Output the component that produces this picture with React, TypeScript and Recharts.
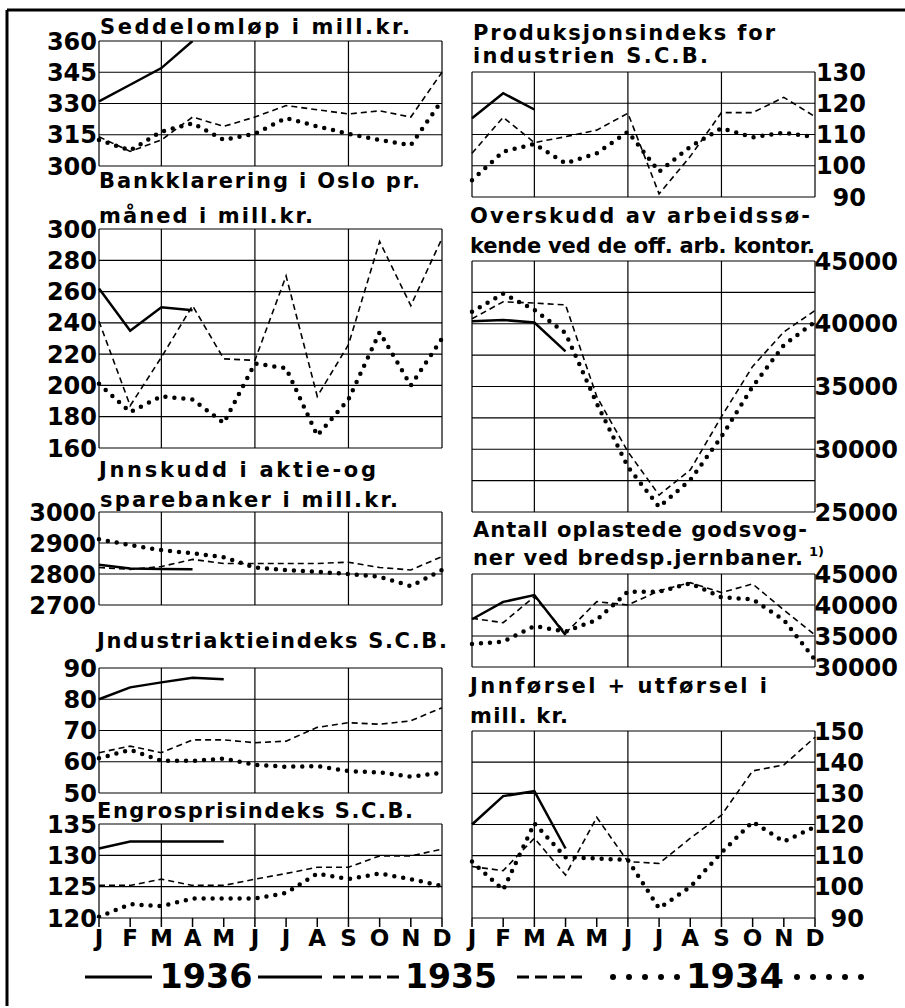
import React from 'react';
import { LineChart, Line, XAxis, YAxis, ReferenceLine } from 'recharts';

const MONTHS = ['J', 'F', 'M', 'A', 'M', 'J', 'J', 'A', 'S', 'O', 'N', 'D'];
const MONTH_IDX = [0, 1, 2, 3, 4, 5, 6, 7, 8, 9, 10, 11];
const V_GRID = [0, 2, 5, 8, 11];

// Seddelomløp i mill. kr.
const NOTES_36 = [331, 339, 347, 360];
const NOTES_35 = [314, 307, 312.5, 323.5, 319, 323.5, 329, 327, 325, 326.5, 323.5, 345];
const NOTES_34 = [312.5, 307.5, 316.5, 320.5, 312.5, 315.5, 323, 319, 315.5, 312.5, 310, 331.5];
const NOTES_TICKS = [300, 315, 330, 345, 360];

// Bankklarering i Oslo
const CLEAR_36 = [262, 235, 250, 248];
const CLEAR_35 = [241, 187, 218, 251, 217, 216, 270, 193, 226, 292, 251, 294];
const CLEAR_34 = [201, 183, 193, 191, 176, 214, 211, 168, 191, 234, 200, 230];
const CLEAR_TICKS = [160, 180, 200, 220, 240, 260, 280, 300];

// Innskudd i aktie- og sparebanker
const DEP_36 = [2830, 2818, 2816, 2815];
const DEP_35 = [2821, 2815, 2824, 2847, 2834, 2834, 2834, 2834, 2838, 2821, 2813, 2856];
const DEP_34 = [2912, 2893, 2877, 2867, 2854, 2821, 2813, 2807, 2800, 2791, 2761, 2813];
const DEP_TICKS = [2700, 2800, 2900, 3000];

// Industriaktieindeks
const STOCK_36 = [80, 83.8, 85.4, 86.9, 86.4];
const STOCK_35 = [62.9, 65, 62.9, 67, 67, 66.1, 66.6, 71, 72.5, 72, 73.1, 77.3];
const STOCK_34 = [61.1, 63.8, 60.3, 60.3, 61, 59, 58.4, 58.6, 57, 56.6, 55.2, 56.5];
const STOCK_TICKS = [50, 60, 70, 80, 90];

// Engrosprisindeks
const WHOLE_36 = [131.1, 132.2, 132.2, 132.2, 132.2];
const WHOLE_35 = [125.2, 125.2, 126.2, 125.2, 125.2, 126.2, 127.1, 128.1, 128.1, 129.9, 129.9, 131];
const WHOLE_34 = [120.2, 122.2, 121.9, 123.1, 123.1, 123.1, 124, 127.1, 126.2, 127.1, 126.2, 125.1];
const WHOLE_TICKS = [120, 125, 130, 135];

// Produksjonsindeks
const PROD_36 = [115.2, 123.2, 118];
const PROD_35 = [104, 115.5, 107.4, 109.3, 111.4, 116.8, 91, 103, 117, 117, 121.9, 115.7];
const PROD_34 = [95.4, 104.5, 107, 100.8, 104, 110.9, 98.1, 106.1, 112, 109.1, 110.6, 109.1];
const PROD_TICKS = [90, 100, 110, 120, 130];

// Overskudd av arbeidssøkende
const UNEMP_36 = [40200, 40300, 40100, 37800];
const UNEMP_35 = [40400, 41750, 41650, 41500, 34200, 29800, 26350, 28350, 32600, 36600, 39350, 41050];
const UNEMP_34 = [40950, 42400, 41100, 39250, 33650, 28600, 25400, 27550, 31000, 35000, 38300, 40150];
const UNEMP_TICKS = [25000, 30000, 35000, 40000, 45000];
const UNEMP_GRID = [25000, 27500, 30000, 32500, 35000, 37500, 40000, 42500, 45000];

// Antall oplastede godsvogner
const WAGON_36 = [37700, 40500, 41600, 35150];
const WAGON_35 = [37850, 37150, 41350, 35450, 40550, 40000, 42300, 43600, 42000, 43400, 39200, 35150];
const WAGON_34 = [33700, 34100, 36600, 35700, 37600, 42150, 42150, 43500, 41250, 40900, 37600, 31150];
const WAGON_TICKS = [30000, 35000, 40000, 45000];

// Innførsel + utførsel
const TRADE_36 = [120, 129.1, 130.7, 112.3];
const TRADE_35 = [106.5, 105.2, 115.6, 103.8, 122.3, 108.1, 107.5, 115.6, 123, 137.2, 139.1, 148];
const TRADE_34 = [108.1, 99, 120.4, 109.5, 109.1, 108.6, 93.1, 100, 111, 120.9, 114.5, 119.3];
const TRADE_TICKS = [90, 100, 110, 120, 130, 140, 150];

const FONT = 'DejaVu Sans';

type PanelProps = {
  side: 'left' | 'right';
  top: number;
  bottom: number;
  ticks: number[];
  grid?: number[];
  labelEnd: number;
  s36: number[];
  s35: number[];
  s34: number[];
  months?: boolean;
};

const Panel = ({ side, top, bottom, ticks, grid, labelEnd, s36, s35, s34, months }: PanelProps) => {
  const left = side === 'left';
  const chartLeft = left ? 0 : 462;
  const chartW = left ? 452 : 443;
  const mTop = 16;
  const mBottom = months ? 4 : 16;
  const xH = months ? 34 : 0;
  const h = mTop + (bottom - top) + xH + mBottom;
  const rows = MONTHS.map((m, i) => ({
    i,
    m,
    a: s36[i] ?? null,
    b: s35[i] ?? null,
    c: s34[i] ?? null,
  }));
  const gridVals = grid || ticks;

  return (
    <div style={{ position: 'absolute', left: chartLeft, top: top - mTop }}>
      <LineChart
        width={chartW}
        height={h}
        data={rows}
        margin={{ top: mTop, bottom: mBottom, left: left ? 0 : 10, right: left ? 10 : 0 }}
      >
        <XAxis
          type="number"
          dataKey="i"
          domain={[0, 11]}
          ticks={MONTH_IDX}
          interval={0}
          hide={!months}
          height={xH}
          tickFormatter={(v: number) => MONTHS[v]}
          axisLine={false}
          tickSize={9}
          tickMargin={3}
          tickLine={{ stroke: '#000', strokeWidth: 1.5 }}
          tick={{ fontSize: 23, fontWeight: 'bold', fill: '#000', fontFamily: FONT }}
        />
        <YAxis
          type="number"
          orientation={left ? 'left' : 'right'}
          width={left ? 99 : 90}
          domain={[ticks[0], ticks[ticks.length - 1]]}
          allowDataOverflow
          ticks={ticks}
          interval={0}
          axisLine={false}
          tickLine={false}
          tickSize={0}
          tick={(p: any) => (
            <text
              x={labelEnd - chartLeft}
              y={p.y}
              dy="0.36em"
              textAnchor="end"
              fontSize={24}
              fontWeight="bold"
              fontFamily={FONT}
              fill="#000"
            >
              {p.payload.value}
            </text>
          )}
        />
        {gridVals.map((v) => (
          <ReferenceLine key={'h' + v} y={v} stroke="#000" strokeWidth={1.2} />
        ))}
        {V_GRID.map((v) => (
          <ReferenceLine key={'v' + v} x={v} stroke="#000" strokeWidth={1.2} />
        ))}
        <Line type="linear" dataKey="c" stroke="#000" strokeWidth={4.5} strokeDasharray="0 9" strokeLinecap="round" dot={false} isAnimationActive={false} />
        <Line type="linear" dataKey="b" stroke="#000" strokeWidth={1.6} strokeDasharray="6 4" dot={false} isAnimationActive={false} />
        <Line type="linear" dataKey="a" stroke="#000" strokeWidth={2.5} dot={false} isAnimationActive={false} />
      </LineChart>
    </div>
  );
};

const TITLES: { t: string; x: number; y: number; w: number }[] = [
  { t: 'Seddelomløp i mill.kr.', x: 100, y: 34, w: 310 },
  { t: 'Bankklarering i Oslo pr.', x: 99, y: 188, w: 321 },
  { t: 'måned i mill.kr.', x: 99, y: 223, w: 214 },
  { t: 'Jnnskudd i aktie-og', x: 99, y: 477, w: 277 },
  { t: 'sparebanker i mill.kr.', x: 100, y: 507, w: 298 },
  { t: 'Jndustriaktieindeks S.C.B.', x: 97, y: 648, w: 350 },
  { t: 'Engrosprisindeks S.C.B.', x: 97, y: 818, w: 316 },
  { t: 'Produksjonsindeks for', x: 473, y: 40, w: 302 },
  { t: 'industrien S.C.B.', x: 473, y: 63, w: 235 },
  { t: 'Overskudd av arbeidssø-', x: 470, y: 223, w: 340 },
  { t: 'kende ved de off. arb. kontor.', x: 470, y: 253, w: 345 },
  { t: 'Antall oplastede godsvog-', x: 473, y: 537, w: 334 },
  { t: 'ner ved bredsp.jernbaner.', x: 473, y: 565, w: 330 },
  { t: 'Jnnførsel + utførsel i', x: 470, y: 693, w: 297 },
  { t: 'mill. kr.', x: 470, y: 723, w: 98 },
];

const YEARS = [
  { t: '1936', cx: 206, w: 93 },
  { t: '1935', cx: 451, w: 92 },
  { t: '1934', cx: 735, w: 98 },
];

const App = () => {
  return (
    <div style={{ position: 'absolute', left: 0, top: 0, width: 905, height: 1008, background: '#fff', overflow: 'hidden' }}>
      <Panel side="left" top={41} bottom={166} ticks={NOTES_TICKS} labelEnd={97} s36={NOTES_36} s35={NOTES_35} s34={NOTES_34} />
      <Panel side="left" top={229} bottom={448} ticks={CLEAR_TICKS} labelEnd={97} s36={CLEAR_36} s35={CLEAR_35} s34={CLEAR_34} />
      <Panel side="left" top={512} bottom={605} ticks={DEP_TICKS} labelEnd={96} s36={DEP_36} s35={DEP_35} s34={DEP_34} />
      <Panel side="left" top={668} bottom={793} ticks={STOCK_TICKS} labelEnd={97} s36={STOCK_36} s35={STOCK_35} s34={STOCK_34} />
      <Panel side="left" top={824} bottom={918} ticks={WHOLE_TICKS} labelEnd={97} s36={WHOLE_36} s35={WHOLE_35} s34={WHOLE_34} months />
      <Panel side="right" top={72} bottom={197} ticks={PROD_TICKS} labelEnd={866} s36={PROD_36} s35={PROD_35} s34={PROD_34} />
      <Panel side="right" top={261} bottom={512} ticks={UNEMP_TICKS} grid={UNEMP_GRID} labelEnd={898} s36={UNEMP_36} s35={UNEMP_35} s34={UNEMP_34} />
      <Panel side="right" top={574} bottom={667} ticks={WAGON_TICKS} labelEnd={898} s36={WAGON_36} s35={WAGON_35} s34={WAGON_34} />
      <Panel side="right" top={731} bottom={918} ticks={TRADE_TICKS} labelEnd={864} s36={TRADE_36} s35={TRADE_35} s34={TRADE_34} months />

      <svg width={905} height={1008} style={{ position: 'absolute', left: 0, top: 0, pointerEvents: 'none' }}>
        <line x1={7} y1={10} x2={905} y2={10} stroke="#000" strokeWidth={3} />
        <line x1={7} y1={10} x2={7} y2={1006} stroke="#000" strokeWidth={3} />
        {TITLES.map((d) => (
          <text key={d.t} x={d.x} y={d.y} fontSize={21} fontWeight="bold" fontFamily={FONT} fill="#000" textLength={d.w} lengthAdjust="spacing">
            {d.t}
          </text>
        ))}
        <text x={809} y={556} fontSize={13} fontWeight="bold" fontFamily={FONT} fill="#000">1)</text>

        {/* legend */}
        <line x1={85} y1={977} x2={152} y2={977} stroke="#000" strokeWidth={3} />
        <line x1={258} y1={977} x2={322} y2={977} stroke="#000" strokeWidth={3} />
        <line x1={333} y1={977} x2={400} y2={977} stroke="#000" strokeWidth={3} strokeDasharray="12 6" />
        <line x1={517} y1={977} x2={582} y2={977} stroke="#000" strokeWidth={3} strokeDasharray="12 6" />
        <line x1={613} y1={977} x2={679} y2={977} stroke="#000" strokeWidth={6} strokeDasharray="0 16" strokeLinecap="round" />
        <line x1={797} y1={977} x2={863} y2={977} stroke="#000" strokeWidth={6} strokeDasharray="0 16" strokeLinecap="round" />
        {YEARS.map((d) => (
          <text key={d.t} x={d.cx - d.w / 2} y={988} fontSize={33} fontWeight="bold" fontFamily={FONT} fill="#000" textLength={d.w} lengthAdjust="spacingAndGlyphs">
            {d.t}
          </text>
        ))}
      </svg>
    </div>
  );
};

export default App;
